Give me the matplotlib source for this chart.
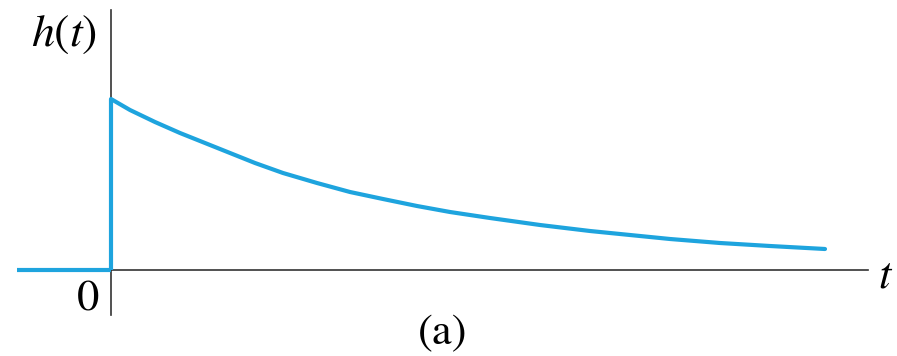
import matplotlib

matplotlib.use("Agg")

import matplotlib.pyplot as plt

# curve (t in pixels right of the origin, h in pixels above the axis)
t_pos = [0, 19, 44, 69, 94, 119, 144, 172, 206, 239, 272, 306, 339, 379, 429,
         479, 529, 559, 609, 659, 714]
h_pos = [171, 160, 148, 137, 127, 117, 107, 97, 87, 78, 71, 64, 58, 52, 45,
         39, 34, 31, 27, 24, 21]
t_neg = [-94, 0]
h_neg = [0, 0]

BLUE = "#1ea4de"
AXIS = "#333333"
SERIF = ["STIXGeneral", "DejaVu Serif"]

plt.rcParams["mathtext.fontset"] = "stix"

fig = plt.figure(figsize=(8.97, 3.56), dpi=100)
ax = fig.add_axes([0, 0, 1, 1])
ax.set_xlim(-111, 786)
ax.set_ylim(-86, 270)
ax.axis("off")

# axes
ax.plot([0, 757], [0, 0], color=AXIS, lw=1.2, zorder=1)
ax.plot([0, 0], [-45, 260], color=AXIS, lw=1.2, zorder=1)

# h(t)
ax.plot(t_neg, h_neg, color=BLUE, lw=3, solid_capstyle="butt", zorder=2)
ax.plot([0, 0], [0, h_pos[0]], color=BLUE, lw=3, solid_capstyle="butt", zorder=2)
ax.plot(t_pos, h_pos, color=BLUE, lw=3, solid_capstyle="round",
        solid_joinstyle="round", zorder=2)

ax.text(-14, 237, r"$h(t)$", fontsize=33, ha="right", va="center")
ax.text(775, -5, r"$t$", fontsize=32, ha="center", va="center")
ax.text(-23, -30, "0", fontsize=32, family=SERIF, ha="center", va="center")
ax.text(332, -64, "(a)", fontsize=32, family=SERIF, ha="center", va="center")

fig.savefig("out.png", dpi=100, facecolor="white")
